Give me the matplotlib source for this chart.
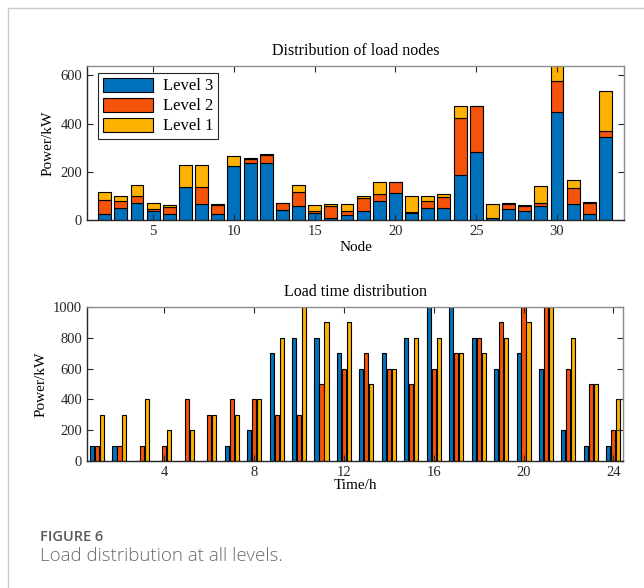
import matplotlib
matplotlib.use('Agg')
import matplotlib.pyplot as plt
from matplotlib.lines import Line2D
import numpy as np

# Node loads, stacked by level (kW)
nodes = list(range(2, 34))
node_level3 = [25, 49, 72, 39, 25, 136, 67, 25, 222, 235, 237, 42, 58, 28, 10, 19,
               39, 78, 110, 28, 49, 51, 188, 282, 6, 44, 36, 56, 449, 66, 23, 344]
node_level2 = [57, 30, 29, 8, 28, 0, 69, 39, 3, 19, 34, 27, 59, 10, 46, 20,
               51, 30, 47, 3, 30, 43, 236, 190, 2, 23, 22, 13, 129, 67, 48, 27]
node_level1 = [36, 21, 45, 22, 9, 92, 92, 2, 42, 3, 2, 3, 29, 24, 9, 26,
               10, 49, 2, 69, 21, 12, 48, 2, 57, 2, 6, 73, 100, 34, 2, 165]

# Hourly loads by level (kW)
hours = list(range(1, 25))
hour_level3 = [100, 100, 0, 0, 0, 0, 100, 200, 700, 800, 800, 700,
               600, 700, 800, 1000, 1000, 800, 600, 700, 600, 200, 100, 100]
hour_level2 = [100, 100, 100, 100, 400, 300, 400, 400, 300, 300, 500, 600,
               700, 600, 500, 600, 700, 800, 900, 1000, 1000, 600, 500, 200]
hour_level1 = [300, 300, 400, 200, 200, 300, 300, 400, 800, 1000, 900, 900,
               500, 600, 800, 800, 700, 700, 800, 900, 1000, 800, 500, 400]

labels = ['Level 3', 'Level 2', 'Level 1']
colors = ['#0072BD', '#F5520A', '#FDB100']

plt.rcParams['font.family'] = ['Liberation Serif', 'DejaVu Serif']

def style_axes(ax):
    ax.tick_params(direction='in', top=True, right=True, length=4, width=0.8,
                   labelsize=10.5, colors='#262626')
    for side in ['left', 'bottom']:
        ax.spines[side].set_color('#262626')
    for side in ['top', 'right']:
        ax.spines[side].set_color('#8c8c8c')
    for sp in ax.spines.values():
        sp.set_linewidth(1.0)

fig = plt.figure(figsize=(6.44, 5.88), dpi=100)

# outer frame: only left and top edges are visible
fy = 1 - 7.5 / 588
fx = 7.5 / 644
fig.lines.append(Line2D([fx, fx], [0, fy], transform=fig.transFigure, color='#c8c8c8', lw=1.0))
fig.lines.append(Line2D([fx, 1], [fy, fy], transform=fig.transFigure, color='#c8c8c8', lw=1.0))

# top: stacked bars per node
ax1 = fig.add_axes([0.135, 0.626, 0.834, 0.262])
l3 = np.array(node_level3)
l2 = np.array(node_level2)
l1 = np.array(node_level1)
ax1.bar(nodes, l3, width=0.8, color=colors[0], edgecolor='black', linewidth=0.8, label=labels[0])
ax1.bar(nodes, l2, width=0.8, bottom=l3, color=colors[1], edgecolor='black', linewidth=0.8, label=labels[1])
ax1.bar(nodes, l1, width=0.8, bottom=l3 + l2, color=colors[2], edgecolor='black', linewidth=0.8, label=labels[2])
ax1.set_xlim(0.9, 34.15)
ax1.set_ylim(0, 640)
ax1.set_xticks([5, 10, 15, 20, 25, 30])
ax1.set_yticks([0, 200, 400, 600])
ax1.set_title('Distribution of load nodes', fontsize=11.5, pad=8)
ax1.set_xlabel('Node', fontsize=11, labelpad=2)
ax1.set_ylabel('Power/kW', fontsize=11, labelpad=4)
style_axes(ax1)
leg = ax1.legend(loc='upper left', bbox_to_anchor=(0.02, 0.955), borderaxespad=0,
                 fontsize=12, handlelength=3.0, handleheight=0.9, handletextpad=0.6,
                 labelspacing=0.2, borderpad=0.3, fancybox=False, framealpha=1)
leg.get_frame().set_edgecolor('#262626')
leg.get_frame().set_linewidth(0.8)

# bottom: grouped bars per hour
ax2 = fig.add_axes([0.135, 0.216, 0.833, 0.262])
x = np.array(hours)
off = 0.222
w = 0.18
ax2.bar(x - off, hour_level3, width=w, color=colors[0], edgecolor='black', linewidth=0.8)
ax2.bar(x, hour_level2, width=w, color=colors[1], edgecolor='black', linewidth=0.8)
ax2.bar(x + off, hour_level1, width=w, color=colors[2], edgecolor='black', linewidth=0.8)
ax2.set_xlim(0.55, 24.45)
ax2.set_ylim(0, 1000)
ax2.set_xticks([4, 8, 12, 16, 20, 24])
ax2.set_yticks([0, 200, 400, 600, 800, 1000])
ax2.set_title('Load time distribution', fontsize=11.5, pad=8)
ax2.set_xlabel('Time/h', fontsize=11, labelpad=0)
ax2.set_ylabel('Power/kW', fontsize=11, labelpad=4)
style_axes(ax2)

# caption
fig.text(40 / 644, 1 - 537 / 588, 'FIGURE 6', fontsize=10.5, color='#5a5a5a',
         family=['Open Sans', 'DejaVu Sans'], fontweight='semibold', va='center')
fig.text(40 / 644, 1 - 556 / 588, 'Load distribution at all levels.', fontsize=13.5,
         color='#6a6a6a', family=['Open Sans', 'DejaVu Sans'], fontweight='light', va='center')

fig.savefig('out.png', dpi=100)
